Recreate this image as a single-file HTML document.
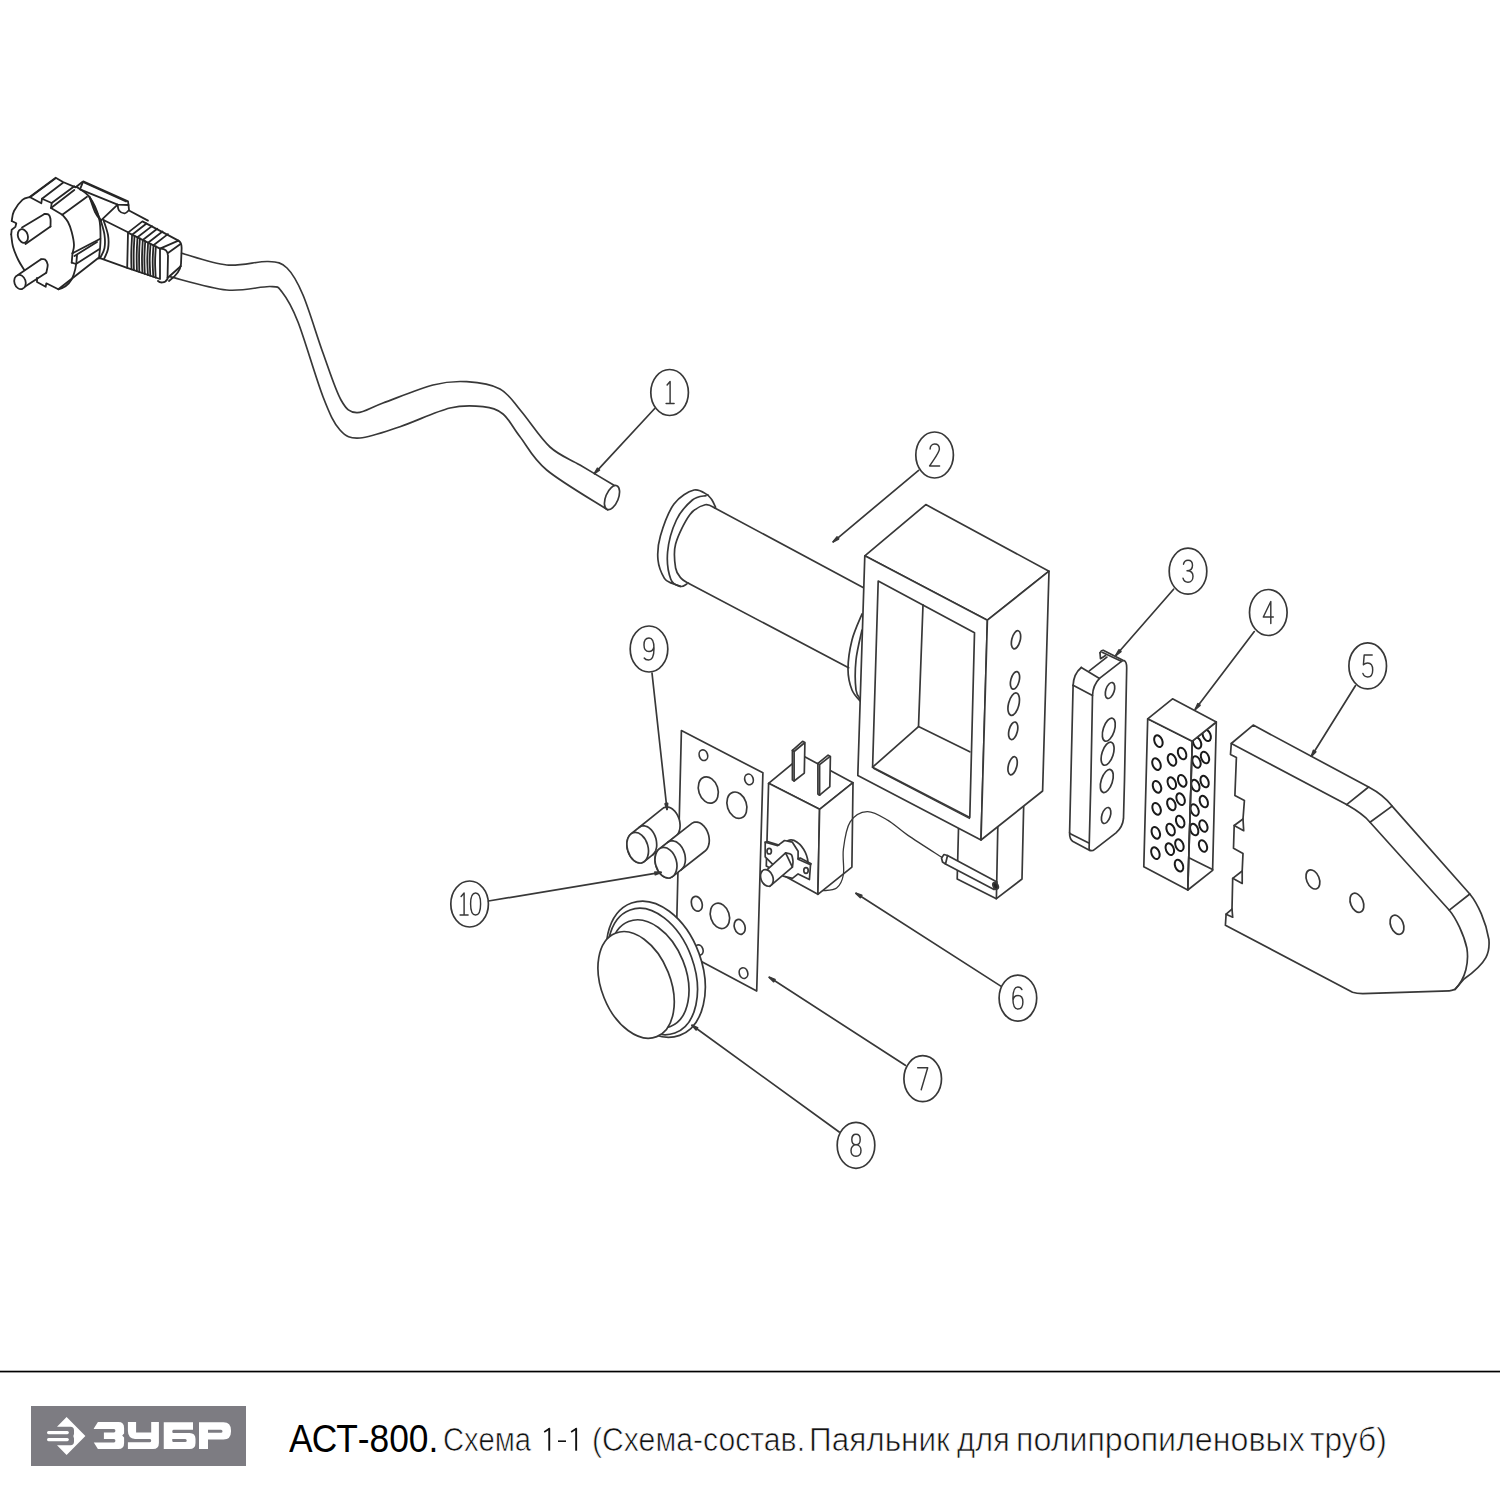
<!DOCTYPE html>
<html><head><meta charset="utf-8"><style>
html,body{margin:0;padding:0;background:#fff;}
body{width:1500px;height:1500px;overflow:hidden;position:relative;}
svg{position:absolute;left:0;top:0;}
.t{position:absolute;font-family:"Liberation Sans",sans-serif;white-space:nowrap;transform-origin:0 0;line-height:1;}
#t1{left:289px;top:1419.5px;font-size:38px;color:#000;transform:scaleX(0.93);}
.w{top:1421.5px;font-size:34px;color:#111;-webkit-text-stroke:0.7px #fff;}
</style></head><body>
<svg width="1500" height="1500" viewBox="0 0 1500 1500">
<g fill="none" stroke="#383838" stroke-width="1.7" stroke-linejoin="round" stroke-linecap="round">
<path d="M181.7,253.3 C189.2,255.2 212.3,263.6 226.7,265 C241.1,266.4 257.9,261 268,261.5 C278.1,262 281.2,262.4 287,268 C292.8,273.6 297,280.8 303,295 C309,309.2 316.7,335.5 323,353 C329.3,370.5 335.4,390.1 341,400 C346.6,409.9 349.7,412.2 356.7,412.7 C363.7,413.2 370.3,407.6 383,403 C395.7,398.4 419.1,388.6 433,385 C446.9,381.4 455.5,381 466.7,381.7 C477.9,382.4 490.9,384.1 500,389 C509.1,393.9 512.7,401.3 521,411 C529.3,420.7 540.2,438 550,447 C559.8,456 569.3,458.6 580,465 C590.7,471.4 608.3,481.9 614,485.3"/><path d="M170,276.7 C179.4,278.9 210,288.4 226.7,290 C243.4,291.6 260.8,286.2 270,286.5 C279.2,286.8 277.3,286.1 282,292 C286.7,297.9 291.2,304.6 298,322 C304.8,339.4 316,378.7 323,396.7 C330,414.7 333.8,423.1 340,430 C346.2,436.9 350,438.6 360,438 C370,437.4 385,431.7 400,426.7 C415,421.7 436.2,411.3 450,408 C463.8,404.7 474.2,405.7 483,406.7 C491.8,407.7 496.8,409 503,414 C509.2,419 512.7,427.4 520,436.7 C527.3,446 532.1,457.8 546.7,470 C561.3,482.2 597.5,503.2 607.7,509.9"/><ellipse cx="612" cy="497.6" rx="6.3" ry="12.8" transform="rotate(22 612 497.6)"/><g stroke="#262626" stroke-width="1.8"><path d="M29.9,197.1 C28.6,197.6 25,197.6 22.4,199.9 C19.8,202.2 15.8,207.5 14,211 C12.2,214.5 12.2,217.2 11.7,221 C11.2,224.8 10.7,228.8 11.2,234 C11.7,239.2 12.7,246.1 14.9,252 C17.1,257.9 21,265.2 24.7,269.4 C28.4,273.6 31.7,273.9 37.3,277.3 C42.9,280.7 54.8,287.5 58.3,289.5 L98.9,258.7 L100.5,240 L100,220 L89.6,197.1 L76.5,186.8 L65.3,180.7 L55.1,177.9Z" fill="#fff" stroke="none"/><path d="M29.9,197.1 C28.6,197.6 25,197.6 22.4,199.9 C19.8,202.2 15.8,207.5 14,211 C12.2,214.5 12.1,219.3 11.7,221"/><path d="M11.7,221 L16.3,223.2 L15.4,226.9 L11.7,229.7 L11.2,234.4"/><path d="M11.2,234.4 C11.5,236.4 11.8,242.4 13,246.7 C14.2,251 16.4,256.1 18.3,260 C20.2,263.9 23.3,268.3 24.3,270"/><path d="M37,278 L37,282 L45.7,286.7 L46.3,283.3 L50.3,285.3 L58.3,289.3 C64,288 69,284 71.7,279.3 C74.5,274 76.5,266 77,255.3"/><path d="M58.3,289.3 L98.3,258"/><path d="M29.7,197 L55.7,177.7 L63,182 L75.7,187.3 L82.3,182"/><path d="M31,196.5 L55.2,178.6"/><path d="M29.7,197 L41.3,203.3 L42,198.7 L51.7,203 L51,208 L62.3,214.7"/><path d="M42,198.7 L63,182.7"/><path d="M51.7,203 L74.3,186.3"/><path d="M51,208 L74.3,190"/><path d="M62.3,214.7 L87,196.7"/><path d="M62.3,214.7 C63.2,215.9 66.4,219.1 68,222 C69.6,224.9 70.7,228.2 71.7,232 C72.7,235.8 73.9,241.4 74,245 C74.1,248.6 72.8,251.9 72.5,253.3"/><path d="M76.5,186.8 C78.7,188.5 85.8,191.9 89.6,197.1 C93.3,202.3 97.2,210.8 99,218 C100.8,225.2 100.5,233.2 100.5,240 C100.5,246.8 99.2,255.6 98.9,258.7"/><path d="M89.6,197.1 C90.5,199.6 93.1,208.1 95,212 C96.9,215.9 99.8,219.2 100.8,220.6"/><path d="M72.5,253.3 L100.3,238.7"/><path d="M71.7,262.7 L76,264 L99.5,249"/><path d="M74.5,256 L97,242"/><path d="M72.5,253.3 L71.7,262.7"/><path d="M22,227.5 L44.5,214 M25.5,244 L50.5,226.5"/><path d="M44.5,214 C45.2,214.1 47.5,213.7 48.5,214.5 C49.5,215.3 50.2,217 50.5,219 C50.8,221 50.5,225.2 50.5,226.5"/><ellipse cx="22.9" cy="236" rx="4.9" ry="7" transform="rotate(-18 22.9 236)" fill="#fff"/><path d="M18.3,274.7 L41,259.3 M21.7,288.7 L46.3,272.7" fill="#fff"/><path d="M41,259.3 C41.7,259.3 43.9,258.6 45,259.5 C46.1,260.4 47.5,262.5 47.7,264.7 C47.9,266.9 46.5,271.4 46.3,272.7"/><ellipse cx="20" cy="282" rx="5.6" ry="7.3" transform="rotate(-18 20 282)" fill="#fff"/><path d="M80,189.4 L83.2,181.4 L128,201.4 L128.5,205 L117.6,204.6 L80,189.4"/><path d="M84,182.5 L126,201.5"/><path d="M117.6,204.6 C117.8,205.6 117.8,209 119,210.5 C120.2,212 123.1,213.5 124.8,213.4 C126.5,213.3 128.3,210.6 129,210 L128.5,205"/><path d="M100.8,220.6 L117.6,204.6"/><path d="M89.6,197.1 L100.8,220.6"/><path d="M100.8,220.6 C101.4,223 103.9,230.4 104.5,235 C105.1,239.6 105.2,244.1 104.5,248 C103.8,251.9 100.8,256.5 100,258.2"/><path d="M103.5,220 C104.2,222.5 107.2,230.2 108,235 C108.8,239.8 108.7,245 108,249 C107.3,253 104.7,257.3 104,259"/><path d="M103.5,220 L127.5,232"/><path d="M129,210.5 L148,220.6"/><path d="M100,258.2 L127.2,267.8"/><path d="M128,232.6 L142.4,221.4 L178.4,240.6 L160,248.6 L160,279 L127.2,267.8Z" fill="#fff"/><path d="M128,232.6 L160,248.6"/><path d="M132.1,234.7 L146.5,223.5 M132.1,234.7 C132,237.6 131.4,246.7 131.3,252.5 C131.2,258.2 131.4,266.5 131.5,269.3 M134.5,235.9 C134.4,238.6 133.8,246.8 133.7,252.5 C133.6,258.2 133.8,267.1 133.9,270.1 M137.5,237.3 L151.9,226.1 M137.5,237.3 C137.3,240.2 136.8,249.1 136.7,254.7 C136.6,260.4 136.9,268.4 136.9,271.1 M139.9,238.5 C139.7,241.2 139.2,249.2 139.1,254.7 C139,260.3 139.3,269.1 139.3,271.9 M142.8,240 L157.2,228.8 M142.8,240 C142.7,242.8 142.1,251.5 142,257 C141.9,262.5 142.3,270.3 142.4,273 M145.2,241.2 C145.1,243.8 144.5,251.6 144.4,257 C144.3,262.4 144.7,271 144.8,273.8 M148.1,242.7 L162.5,231.5 M148.1,242.7 C148,245.4 147.4,253.9 147.3,259.3 C147.3,264.6 147.8,272.3 147.9,274.9 M150.5,243.9 C150.4,246.4 149.8,254 149.7,259.3 C149.7,264.6 150.2,272.9 150.3,275.7 M153.5,245.3 L167.9,234.1 M153.5,245.3 C153.3,248 152.7,256.3 152.7,261.5 C152.6,266.8 153.2,274.2 153.3,276.7 M155.9,246.5 C155.7,249 155.1,256.4 155.1,261.5 C155,266.7 155.6,274.9 155.7,277.5"/><path d="M158,281 C160,283 165,283.5 167.5,279 L168,256 C168,251 165,248.5 160.5,248.6"/><path d="M178.4,240.6 C181,242 181.8,245 181.6,249 L181,264 C180.5,270 176,276 169,281"/><path d="M168,253 L180.5,244"/><path d="M167.5,278 L181,266"/></g><path d="M714.8,508 L864,588 L864,668 L848.6,667.8 L688.4,583.2Z" fill="#fff" stroke="none"/><path d="M714.8,508 L864,588"/><path d="M688.4,583.2 L848.6,667.8"/><path d="M707.6,494.8 C705.3,494 699.6,488.5 694,490 C688.4,491.5 679.6,496.3 674,504 C668.4,511.7 663.1,526.7 660.4,536 C657.7,545.3 657.3,552.9 658,560 C658.7,567.1 662.1,574.5 664.4,578.4 C666.7,582.3 670.4,582.4 671.6,583.2"/><path d="M706,495.6 C703.7,496.3 697.3,495.9 692.4,500 C687.5,504.1 680.5,511.3 676.4,520 C672.3,528.7 668.5,542.1 667.6,552 C666.7,561.9 668.7,573.5 670.8,579.2 C672.9,584.9 677.7,585.6 680.4,586.4 C683.1,587.2 685.7,584.4 686.8,584"/><path d="M671.6,583.2 L680.4,586.4"/><path d="M707.6,494.8 C708.3,495.7 710.7,497.9 712,500 C713.3,502.1 715,506 715.6,507.2"/><path d="M714.8,508 C713.2,507.5 709.3,503.7 705.2,504.8 C701.1,505.9 694.9,507.9 690,514.4 C685.1,520.9 678,535.1 675.6,544 C673.2,552.9 674.7,562.3 675.6,568 C676.5,573.7 679.1,575.9 681.2,578.4 C683.3,580.9 687.2,582.4 688.4,583.2"/><path d="M862,614 C860.3,618.3 854.3,630.8 852,640 C849.7,649.2 848,660.7 848,669 C848,677.3 849.8,684.5 852,690 C854.2,695.5 859.5,700 861,702"/><path d="M862,630 C861,635 857,650 856,660 C855,670 855.2,683.3 856,690 C856.8,696.7 860.2,698.3 861,700"/><path d="M958.6,825 L957.2,879 L996.4,898.7 L1022,879 L1023.8,800" fill="#fff"/><path d="M997.8,827 L996.4,898.7"/><path d="M941.5,858 L944,854.5 L947.5,855.5 L997,882 L994,889.5 L945.5,864 L942.5,862Z" fill="#fff"/><path d="M947.5,855.5 L945.5,864"/><ellipse cx="995.6" cy="885.8" rx="2.4" ry="3.6" transform="rotate(-25 995.6 885.8)" fill="#222"/><path d="M864.8,555.8 L925.8,504.6 L1049,571.2 L987.4,620.2Z" fill="#fff"/><path d="M864.8,555.8 L987.4,620.2 L981,840 L857.8,775.6Z" fill="#fff"/><path d="M987.4,620.2 L1049,571.2 L1042.6,791 L981,840Z" fill="#fff"/><path d="M878.2,581 L974.5,632.8 L969.8,817.5 L872.6,767.2Z"/><path d="M923,604.8 L918.5,726.6 L872.6,767.2"/><path d="M918.5,726.6 L969.8,751.8"/><path d="M873.5,768.5 L969.5,818.5" stroke-width="1.4"/><ellipse cx="1016" cy="639.8" rx="4.2" ry="9.3" transform="rotate(14 1016 639.8)"/><ellipse cx="1015" cy="680.4" rx="4.2" ry="9" transform="rotate(14 1015 680.4)"/><ellipse cx="1013.7" cy="704.2" rx="5.2" ry="11.5" transform="rotate(14 1013.7 704.2)"/><ellipse cx="1013.2" cy="730.8" rx="4.2" ry="9" transform="rotate(14 1013.2 730.8)"/><ellipse cx="1012.6" cy="765.8" rx="4.2" ry="9.3" transform="rotate(14 1012.6 765.8)"/><path d="M1073.1,685.3 C1073.5,678 1077,671 1081.3,667.5 L1089.3,670.9 L1100,652.8 C1101,650.5 1102.5,650 1103.7,650.4 L1122.9,660.3 C1125.5,661.5 1126.7,663 1126.7,667.7 L1124.5,780 L1123.5,818.4 C1123,824 1120.5,829 1116,832.8 L1094.7,849.3 C1093,850.8 1091.5,851 1089.9,850.4 L1073,841.5 C1070.5,840 1069.5,837.5 1069.6,832.8Z" fill="#fff" stroke="none"/><path d="M1073.1,685.3 C1073.5,678 1077,671 1081.3,667.5"/><path d="M1073.1,685.3 L1069.6,832.8"/><path d="M1069.6,832.8 C1069.5,837.5 1070.5,840 1073,841.5 L1089.9,850.4"/><path d="M1069.8,833.5 L1088.8,842.9"/><path d="M1073.1,685.3 L1092.5,695.5"/><path d="M1081.3,667.5 L1099.5,678.4"/><path d="M1089.3,670.9 L1106.9,657.1"/><path d="M1100,652.8 C1101,650.5 1102.5,650 1103.7,650.4 L1122.9,660.3"/><path d="M1102.1,652.3 L1121.3,661.3"/><path d="M1100,652.8 L1100.5,658.7 L1105.5,655.5"/><path d="M1092.5,695.5 C1092.8,689 1095,683 1099.5,678.4 L1120.8,661.9 C1122,661 1123,660.5 1124,660.5 C1125.8,661.3 1126.7,663 1126.7,667.7 L1124.5,780 L1123.5,818.4 C1123,824 1120.5,829 1116,832.8 L1094.7,849.3 C1093,850.8 1091.5,851 1089.9,850.4 L1089.1,848.8 L1090.9,780Z"/><ellipse cx="1110" cy="690.5" rx="4.2" ry="8.3" transform="rotate(18 1110 690.5)"/><ellipse cx="1108.8" cy="729.7" rx="5.6" ry="12" transform="rotate(18 1108.8 729.7)"/><ellipse cx="1107.6" cy="753.7" rx="5.6" ry="12" transform="rotate(18 1107.6 753.7)"/><ellipse cx="1106.8" cy="781" rx="5.6" ry="12" transform="rotate(18 1106.8 781)"/><ellipse cx="1106.1" cy="815.5" rx="4.2" ry="8.3" transform="rotate(18 1106.1 815.5)"/><path d="M1147.7,718.8 L1192.3,741.2 L1187.8,890 L1143.8,866.8Z" fill="#fff"/><path d="M1192.3,741.2 L1216.3,722 L1212.6,870.4 L1187.8,890Z" fill="#fff"/><path d="M1189.4,858 L1212.6,869.6"/><ellipse cx="1158.4" cy="741.2" rx="3.9" ry="6.1" transform="rotate(-22 1158.4 741.2)" stroke="#1a1a1a" stroke-width="2"/><ellipse cx="1156.5" cy="764.1" rx="3.9" ry="6.1" transform="rotate(-22 1156.5 764.1)" stroke="#1a1a1a" stroke-width="2"/><ellipse cx="1172" cy="759.9" rx="3.9" ry="6.1" transform="rotate(-22 1172 759.9)" stroke="#1a1a1a" stroke-width="2"/><ellipse cx="1182.1" cy="753.5" rx="3.9" ry="6.1" transform="rotate(-22 1182.1 753.5)" stroke="#1a1a1a" stroke-width="2"/><ellipse cx="1157" cy="786.8" rx="3.9" ry="6.1" transform="rotate(-22 1157 786.8)" stroke="#1a1a1a" stroke-width="2"/><ellipse cx="1171.8" cy="783.2" rx="3.9" ry="6.1" transform="rotate(-22 1171.8 783.2)" stroke="#1a1a1a" stroke-width="2"/><ellipse cx="1182.2" cy="780.8" rx="3.9" ry="6.1" transform="rotate(-22 1182.2 780.8)" stroke="#1a1a1a" stroke-width="2"/><ellipse cx="1156.6" cy="808.8" rx="3.9" ry="6.1" transform="rotate(-22 1156.6 808.8)" stroke="#1a1a1a" stroke-width="2"/><ellipse cx="1171.4" cy="804.4" rx="3.9" ry="6.1" transform="rotate(-22 1171.4 804.4)" stroke="#1a1a1a" stroke-width="2"/><ellipse cx="1180.6" cy="799.2" rx="3.9" ry="6.1" transform="rotate(-22 1180.6 799.2)" stroke="#1a1a1a" stroke-width="2"/><ellipse cx="1155.8" cy="832.8" rx="3.9" ry="6.1" transform="rotate(-22 1155.8 832.8)" stroke="#1a1a1a" stroke-width="2"/><ellipse cx="1170.6" cy="829.6" rx="3.9" ry="6.1" transform="rotate(-22 1170.6 829.6)" stroke="#1a1a1a" stroke-width="2"/><ellipse cx="1180.2" cy="821.6" rx="3.9" ry="6.1" transform="rotate(-22 1180.2 821.6)" stroke="#1a1a1a" stroke-width="2"/><ellipse cx="1155.4" cy="853.2" rx="3.9" ry="6.1" transform="rotate(-22 1155.4 853.2)" stroke="#1a1a1a" stroke-width="2"/><ellipse cx="1169.8" cy="849.2" rx="3.9" ry="6.1" transform="rotate(-22 1169.8 849.2)" stroke="#1a1a1a" stroke-width="2"/><ellipse cx="1179.4" cy="845.2" rx="3.9" ry="6.1" transform="rotate(-22 1179.4 845.2)" stroke="#1a1a1a" stroke-width="2"/><ellipse cx="1179" cy="865.6" rx="3.9" ry="6.1" transform="rotate(-22 1179 865.6)" stroke="#1a1a1a" stroke-width="2"/><ellipse cx="1197.1" cy="742.8" rx="3.8" ry="6" transform="rotate(-22 1197.1 742.8)" stroke="#1a1a1a" stroke-width="2"/><ellipse cx="1206.7" cy="735.3" rx="3.8" ry="6" transform="rotate(-22 1206.7 735.3)" stroke="#1a1a1a" stroke-width="2"/><ellipse cx="1196.5" cy="762" rx="3.8" ry="6" transform="rotate(-22 1196.5 762)" stroke="#1a1a1a" stroke-width="2"/><ellipse cx="1205" cy="757.5" rx="3.8" ry="6" transform="rotate(-22 1205 757.5)" stroke="#1a1a1a" stroke-width="2"/><ellipse cx="1195.4" cy="785.6" rx="3.8" ry="6" transform="rotate(-22 1195.4 785.6)" stroke="#1a1a1a" stroke-width="2"/><ellipse cx="1204.6" cy="781.6" rx="3.8" ry="6" transform="rotate(-22 1204.6 781.6)" stroke="#1a1a1a" stroke-width="2"/><ellipse cx="1194.6" cy="810" rx="3.8" ry="6" transform="rotate(-22 1194.6 810)" stroke="#1a1a1a" stroke-width="2"/><ellipse cx="1203.8" cy="801.6" rx="3.8" ry="6" transform="rotate(-22 1203.8 801.6)" stroke="#1a1a1a" stroke-width="2"/><ellipse cx="1194.2" cy="829.6" rx="3.8" ry="6" transform="rotate(-22 1194.2 829.6)" stroke="#1a1a1a" stroke-width="2"/><ellipse cx="1203.4" cy="826" rx="3.8" ry="6" transform="rotate(-22 1203.4 826)" stroke="#1a1a1a" stroke-width="2"/><ellipse cx="1203" cy="846" rx="3.8" ry="6" transform="rotate(-22 1203 846)" stroke="#1a1a1a" stroke-width="2"/><path d="M1147.7,718.8 L1172.5,698.8 L1216.3,722 L1192.3,741.2Z" fill="#fff"/><path d="M1192.3,741.2 L1187.8,890"/><path d="M1231.3,743.5 L1253.2,725.1 L1368.6,787 C1378,792 1386,798 1392.1,806.1 L1469.8,894 C1478,904 1486,922 1488.9,939.5 C1490,952 1488,962 1464,979 L1455,989.4 C1452,990.5 1450,990.8 1449.3,990.8 L1362.8,993.7 C1358,993.5 1355,993 1352.5,992.3 L1225.4,925.2 L1226.1,914.2 L1232,909.1 L1232.7,878.3 L1242.2,871 L1243,853.4 L1233.5,848.3 L1234.2,825.5 L1243,819 L1244.4,800.6 L1234.9,795.5 L1236.4,757.4 L1230.5,754.4 L1231.3,743.5Z" fill="#fff"/><path d="M1231.3,743.5 L1346.6,804.6 C1356,810 1364,815 1370,822.2 L1449.3,910.2 C1456,918 1464,935 1466.9,948.3 C1469,962 1466,978 1455,989.4"/><path d="M1346.6,804.6 L1368.6,787"/><path d="M1370,822.2 L1392.1,806.1"/><path d="M1449.3,910.2 L1469.8,894"/><path d="M1243,819 L1243.7,830.7 L1234.2,825.5"/><path d="M1242.2,871 L1242.2,883.4 L1232.7,878.3"/><path d="M1232,909.1 L1232.7,917.2 L1226.1,914.2"/><ellipse cx="1312.9" cy="879.4" rx="6.3" ry="10" transform="rotate(-22 1312.9 879.4)"/><ellipse cx="1356.9" cy="902.8" rx="6.3" ry="10" transform="rotate(-22 1356.9 902.8)"/><ellipse cx="1397" cy="924.8" rx="6.3" ry="10" transform="rotate(-22 1397 924.8)"/><path d="M768.6,783.3 L802.4,755.5 L853,782.7 L819.6,809.3Z" fill="#fff"/><path d="M768.6,783.3 L819.6,809.3 L817.9,894.3 L766.3,866Z" fill="#fff"/><path d="M819.6,809.3 L853,782.7 L851.9,867.1 L817.9,894.3Z" fill="#fff"/><path d="M792.4,750.4 L802.6,741.3 L804.9,742.5 L804.3,773.1 L794.1,781 L792.4,779.9Z" fill="#fff"/><path d="M792.4,750.4 L794.1,751.5 L804.3,743 M794.1,751.5 L794.1,781"/><path d="M817.9,763.4 L828.1,755.2 L830.4,756.6 L829.8,786.7 L819.6,795.2 L817.9,794Z" fill="#fff"/><path d="M817.9,763.4 L819.6,764.6 L829.8,756.6 M819.6,764.6 L819.6,795.2"/><ellipse cx="795.8" cy="856.9" rx="10.5" ry="18" transform="rotate(-25 795.8 856.9)" fill="#fff"/><path d="M765.2,842.2 L777.7,845.6 L784.5,840.5 L792.4,842.2 L798.1,851.2 L798.1,859.2 L810.5,864.8 L809.4,879.6 L798.1,873.9 L792.4,878.4 L783.3,876.2 L777.7,869.4 L765.2,856.9Z" fill="#fff"/><path d="M765.2,842.2 L767.5,841.6 L778.8,845 M798.1,858.6 L800.3,858 L811.1,863.7 L810.5,864.8"/><ellipse cx="769.2" cy="851.2" rx="2.2" ry="2.8"/><ellipse cx="806" cy="870.5" rx="2.2" ry="2.8"/><path d="M767.5,869.4 L785.6,852.9 L792.3937677053824,867.1104815864023  L769.7308781869689,886.3739376770538 Z" fill="#fff"/><path d="M785.6,852.9 C786.5,853.2 790,853.2 791.3,854.6 C792.5,856.1 792.8,859.4 793,861.4 C793.1,863.5 792.5,866.2 792.4,867.1"/><ellipse cx="766.9" cy="877.9" rx="6" ry="8.6" transform="rotate(-20 766.9 877.9)" fill="#fff"/><path d="M942,857.5 C936.3,853.8 917.1,841.6 908,835.4 C898.9,829.2 894.4,824.1 887.6,820.1 C880.8,816.1 873.4,811.3 867.2,811.6 C861,811.9 854.2,815.6 850.2,821.8 C846.2,828 844.5,840.2 843.4,849 C842.3,857.8 844.5,868 843.4,874.5 C842.3,881 840,885.4 836.6,888.1 C833.2,890.8 825.3,890.3 823,890.7" stroke-width="1.3"/><path d="M681.4,730.6 L762.9,772.8 L756.7,991.1 L676.1,948Z" fill="#fff"/><ellipse cx="703.4" cy="755.2" rx="4.2" ry="5.4" transform="rotate(-18 703.4 755.2)"/><ellipse cx="749" cy="779.4" rx="4.2" ry="5.4" transform="rotate(-18 749 779.4)"/><ellipse cx="708.3" cy="790" rx="9.6" ry="13.5" transform="rotate(-18 708.3 790)"/><ellipse cx="736.9" cy="805.2" rx="9.6" ry="13.5" transform="rotate(-18 736.9 805.2)"/><ellipse cx="696.8" cy="903.8" rx="5.3" ry="7.6" transform="rotate(-18 696.8 903.8)"/><ellipse cx="719.9" cy="915.9" rx="9.3" ry="13" transform="rotate(-18 719.9 915.9)"/><ellipse cx="739.7" cy="926.9" rx="5.3" ry="7.6" transform="rotate(-18 739.7 926.9)"/><ellipse cx="743.5" cy="973.1" rx="4.2" ry="5.4" transform="rotate(-18 743.5 973.1)"/><ellipse cx="699" cy="950" rx="4" ry="5.2" transform="rotate(-18 699 950)"/><path d="M662.5,808.6 L663.5,807.9 L664.5,807.5 L665.7,807.1 L666.8,807 L668,807.1 L669.2,807.4 L670.4,807.8 L671.6,808.5 L672.8,809.3 L673.9,810.3 L675,811.4 L676,812.7 L676.9,814.1 L677.7,815.6 L678.4,817.1 L679,818.8 L679.5,820.5 L679.8,822.2 L680,823.9 L680.1,825.6 L680,827.2 L679.8,828.8 L679.5,830.3 L679.1,831.7 L678.5,833 L677.8,834.1 L677,835.1 L676.1,836 L644.5,861.4 L643.5,862.1 L642.5,862.5 L641.3,862.9 L640.2,863 L639,862.9 L637.8,862.6 L636.6,862.2 L635.4,861.5 L634.2,860.7 L633.1,859.7 L632,858.6 L631,857.3 L630.1,855.9 L629.3,854.4 L628.6,852.9 L628,851.2 L627.5,849.5 L627.2,847.8 L627,846.1 L626.9,844.4 L627,842.8 L627.2,841.2 L627.5,839.7 L627.9,838.3 L628.5,837 L629.2,835.9 L630,834.9 L630.9,834Z" fill="#fff"/><path d="M639.1,827.4 L640.1,826.7 L641.2,826.2 L642.3,825.9 L643.4,825.8 L644.6,825.9 L645.8,826.2 L647,826.6 L648.2,827.3 L649.4,828.1 L650.5,829.1 L651.6,830.2 L652.6,831.5 L653.5,832.9 L654.3,834.4 L655,835.9 L655.6,837.6 L656.1,839.3 L656.4,841 L656.6,842.7 L656.7,844.4 L656.7,846 L656.5,847.6 L656.1,849.1 L655.7,850.5 L655.1,851.8 L654.4,852.9 L653.6,853.9 L652.7,854.8"/><ellipse cx="637.7" cy="847.7" rx="10.3" ry="15.6" transform="rotate(-16 637.7 847.7)" fill="#fff"/><path d="M691.5,823.6 L692.5,822.9 L693.6,822.4 L694.7,822.1 L695.9,822 L697.1,822.1 L698.3,822.4 L699.6,822.8 L700.8,823.5 L702,824.3 L703.1,825.3 L704.2,826.4 L705.2,827.7 L706.1,829 L706.9,830.5 L707.6,832.1 L708.2,833.8 L708.7,835.4 L709,837.2 L709.2,838.9 L709.3,840.6 L709.2,842.2 L709,843.8 L708.6,845.3 L708.2,846.7 L707.6,848 L706.9,849.1 L706,850.2 L705.1,851 L672.8,876.4 L671.8,877.1 L670.7,877.6 L669.6,877.9 L668.4,878 L667.2,877.9 L666,877.6 L664.7,877.2 L663.5,876.5 L662.3,875.7 L661.2,874.7 L660.1,873.6 L659.1,872.3 L658.2,871 L657.4,869.5 L656.7,867.9 L656.1,866.2 L655.6,864.6 L655.3,862.8 L655.1,861.1 L655,859.4 L655.1,857.8 L655.3,856.2 L655.7,854.7 L656.1,853.3 L656.7,852 L657.4,850.9 L658.3,849.8 L659.2,849Z" fill="#fff"/><path d="M667.6,842.4 L668.6,841.7 L669.7,841.2 L670.8,840.9 L672,840.8 L673.2,840.9 L674.4,841.2 L675.7,841.6 L676.9,842.3 L678,843.1 L679.2,844.1 L680.3,845.2 L681.3,846.5 L682.2,847.8 L683,849.3 L683.7,850.9 L684.3,852.6 L684.8,854.2 L685.1,855.9 L685.3,857.7 L685.4,859.4 L685.3,861 L685.1,862.6 L684.7,864.1 L684.3,865.5 L683.7,866.8 L683,867.9 L682.1,868.9 L681.2,869.8"/><ellipse cx="666" cy="862.7" rx="10.5" ry="15.6" transform="rotate(-16 666 862.7)" fill="#fff"/><ellipse cx="655.6" cy="969.2" rx="46.2" ry="70.4" transform="rotate(-20 655.6 969.2)" fill="#fff"/><ellipse cx="652.5" cy="971.5" rx="41.5" ry="65.5" transform="rotate(-20 652.5 971.5)" fill="#fff"/><ellipse cx="649.5" cy="974" rx="36" ry="56.5" transform="rotate(-21.8 649.5 974)" fill="#fff"/><ellipse cx="636.1" cy="984.9" rx="34.5" ry="55.7" transform="rotate(-21.8 636.1 984.9)" fill="#fff"/><path d="M654.7,408.5 L594.4,473.6"/><path d="M594.4,473.6 L597.5,468.3 L599.4,470.1Z" fill="#222"/><path d="M918.6,470.4 L833.2,541.8"/><path d="M833.2,541.8 L837,537 L838.6,538.9Z" fill="#222"/><path d="M1173.6,589.2 L1116,655.2"/><path d="M1116,655.2 L1119,649.8 L1120.9,651.5Z" fill="#222"/><path d="M1254.3,631.6 L1195.3,709.3"/><path d="M1195.3,709.3 L1197.9,703.7 L1200,705.3Z" fill="#222"/><path d="M1355.4,685.8 L1311.4,756.2"/><path d="M1311.4,756.2 L1313.5,750.4 L1315.7,751.8Z" fill="#222"/><path d="M1000.8,986.1 L856,893.3"/><path d="M856,893.3 L861.8,895.4 L860.4,897.6Z" fill="#222"/><path d="M905.3,1065.3 L769.3,977.3"/><path d="M769.3,977.3 L775,979.5 L773.6,981.7Z" fill="#222"/><path d="M839.2,1132 L692,1025.3"/><path d="M692,1025.3 L697.6,1027.8 L696.1,1029.9Z" fill="#222"/><path d="M652,673 L667,809.5"/><path d="M667,809.5 L665.1,803.7 L667.6,803.4Z" fill="#222"/><path d="M488.5,901 L661,872.4"/><path d="M661,872.4 L655.3,874.7 L654.9,872.1Z" fill="#222"/><ellipse cx="669.6" cy="392.5" rx="18.8" ry="23"/><path transform="translate(664.6 381.5)" d="M2.5,3.5 L5.5,0 L5.5,22 M1.5,22 L9.5,22" stroke-width="1.45"/><ellipse cx="934.6" cy="455" rx="18.8" ry="23"/><path transform="translate(929.6 444)" d="M0.5,5 C0.5,2 2.5,0 5,0 C8,0 9.8,2 9.8,5 C9.8,8 8,10 0,22 L10,22" stroke-width="1.45"/><ellipse cx="1188" cy="571.2" rx="18.8" ry="23"/><path transform="translate(1183 560.2)" d="M0.5,4 C1,1.5 3,0 5,0 C8,0 9.5,2 9.5,5 C9.5,8.5 7.5,10.5 4,10.5 C8,10.5 10,13 10,16 C10,19.5 8,22 5,22 C2.5,22 0.6,20.5 0,18" stroke-width="1.45"/><ellipse cx="1268.3" cy="612.5" rx="18.8" ry="23"/><path transform="translate(1263.3 601.5)" d="M7.5,22 L7.5,0 L0,15.5 L10,15.5" stroke-width="1.45"/><ellipse cx="1367.7" cy="665.9" rx="18.8" ry="23"/><path transform="translate(1362.7 654.9)" d="M9.5,0 L1.5,0 L0.7,10 C2,8.5 3.5,8 5,8 C8,8 10,10.5 10,15 C10,19.5 8,22 5,22 C2.5,22 0.8,20.5 0.2,18.5" stroke-width="1.45"/><ellipse cx="1017.9" cy="998.1" rx="18.8" ry="23"/><path transform="translate(1012.9 987.1)" d="M9,2.5 C8.2,0.8 7,0 5,0 C1.5,0 0,4 0,11.5 C0,18.5 1.8,22 5,22 C8.2,22 10,19.5 10,15 C10,10.5 8,8.5 5,8.5 C2.5,8.5 0.6,10.5 0.1,13" stroke-width="1.45"/><ellipse cx="922.7" cy="1078.7" rx="18.8" ry="23"/><path transform="translate(917.7 1067.7)" d="M0,0 L10,0 L3.5,22" stroke-width="1.45"/><ellipse cx="856" cy="1145.3" rx="18.8" ry="23"/><path transform="translate(851 1134.3)" d="M5,10.5 C2.3,10.5 0.8,8.5 0.8,5.2 C0.8,2 2.5,0 5,0 C7.5,0 9.2,2 9.2,5.2 C9.2,8.5 7.7,10.5 5,10.5 C2,10.5 0,13 0,16.2 C0,19.8 2,22 5,22 C8,22 10,19.8 10,16.2 C10,13 8,10.5 5,10.5Z" stroke-width="1.45"/><ellipse cx="649" cy="649" rx="18.8" ry="23"/><path transform="translate(644 638)" d="M0.2,20 C1,21.3 2.5,22 4.5,22 C8.5,22 10,18 10,10.5 C10,3.5 8.2,0 5,0 C1.8,0 0,2.5 0,7 C0,11.5 2,13.5 5,13.5 C7.5,13.5 9.4,11.5 9.9,9" stroke-width="1.45"/><ellipse cx="469.6" cy="904" rx="18.8" ry="23"/><path transform="translate(458.6 893)" d="M2.5,3.5 L5.5,0 L5.5,22 M1.5,22 L9.5,22" stroke-width="1.45"/><path transform="translate(470.6 893)" d="M5,0 C1,0 0,5 0,11 C0,17 1,22 5,22 C9,22 10,17 10,11 C10,5 9,0 5,0Z" stroke-width="1.45"/>
</g>
<rect x="0" y="1370.7" width="1500" height="1.7" fill="#000"/>
<g fill="#fff">
<rect x="31" y="1406" width="215" height="60" fill="#7d7c82"/>
<path d="M66.6,1417 L85.4,1436 L66.6,1455 L57,1445.3 L70.5,1445.3 Q74,1445.3 74,1441.5 L74,1438.5 Q72.5,1436.2 74,1434 L74,1430.5 Q74,1426.8 70.5,1426.8 L57,1426.8Z"/>
<path d="M48.5,1431 L67.3,1431 Q68.8,1431 68.8,1432.6 Q68.8,1434.2 67.3,1434.2 L48.5,1434.2 Q47,1434.2 47,1432.6 Q47,1431 48.5,1431Z"/>
<path d="M48.5,1438 L67.3,1438 Q68.8,1438 68.8,1439.6 Q68.8,1441.2 67.3,1441.2 L48.5,1441.2 Q47,1441.2 47,1439.6 Q47,1438 48.5,1438Z"/>
<path d="M93.8,1428.6 L97.9,1422.1 L118.5,1422.1 Q124.1,1422.1 124.1,1428 L124.1,1433.5 L122.2,1435.6 L124.1,1437.5 L124.1,1443 Q124.1,1449 118.5,1449 L97.9,1449 L93.8,1442.4 L114,1442.4 Q115.4,1442.4 115.4,1440.8 Q115.4,1439.1 114,1439.1 L103.9,1439.1 L103.9,1432.4 L114,1432.4 Q115.4,1432.4 115.4,1430.7 Q115.4,1429 114,1429 L93.8,1429Z"/>
<path d="M127.9,1422.1 L136.1,1422.1 L136.1,1432.4 L151.2,1432.4 L151.2,1422.1 L158.9,1422.1 L158.9,1443 Q158.9,1449 153,1449 L127.9,1449 L127.9,1442.2 L150,1442.2 Q151.2,1442.2 151.2,1440.6 Q151.2,1439.1 150,1439.1 L135,1439.1 Q127.9,1438 127.9,1431Z"/>
<path d="M163.75,1422.25 L193,1422.25 L193,1429.75 L173.5,1429.75 Q172.25,1429.75 172.25,1431.4 Q172.25,1433 173.5,1433 L189.5,1433 Q195.5,1433 195.5,1439 L195.5,1443 Q195.5,1449 189.5,1449 L163.75,1449Z M172.25,1439 L185.2,1439 Q186.75,1439 186.75,1440.5 Q186.75,1442 185.2,1442 L173.5,1442 Q172.25,1442 172.25,1440.5Z" fill-rule="evenodd"/>
<path d="M199,1422.25 L223.5,1422.25 Q231,1422.25 231,1430.5 L231,1431.5 Q231,1439.5 223.5,1439.5 L208,1439.5 L208,1449 L199,1449Z M208,1429.75 L221,1429.75 Q222.5,1429.75 222.5,1431.25 Q222.5,1432.75 221,1432.75 L208,1432.75Z" fill-rule="evenodd"/>
</g>
<g fill="#111"><rect x="548.3" y="1428.2" width="1.9" height="22.5"/><path d="M543.8,1431.2 L549.6,1427.6 L549.9,1429.4 L544.6,1432.8Z"/><rect x="558" y="1440.4" width="8" height="1.6"/><rect x="575.2" y="1428.2" width="1.9" height="22.5"/><path d="M570.7,1431.2 L576.5,1427.6 L576.8,1429.4 L571.5,1432.8Z"/></g>
</svg>
<div class="t" id="t1">АСТ-800.</div><div class="t w" style="left:443px;transform:scaleX(0.86)">Схема</div><div class="t w" style="left:592px;transform:scaleX(0.888)">(Схема-состав.</div><div class="t w" style="left:809px;transform:scaleX(0.927)">Паяльник</div><div class="t w" style="left:956.5px;transform:scaleX(0.91)">для</div><div class="t w" style="left:1016px;transform:scaleX(0.947)">полипропиленовых</div><div class="t w" style="left:1310px;transform:scaleX(0.934)">труб)</div>
</body></html>
